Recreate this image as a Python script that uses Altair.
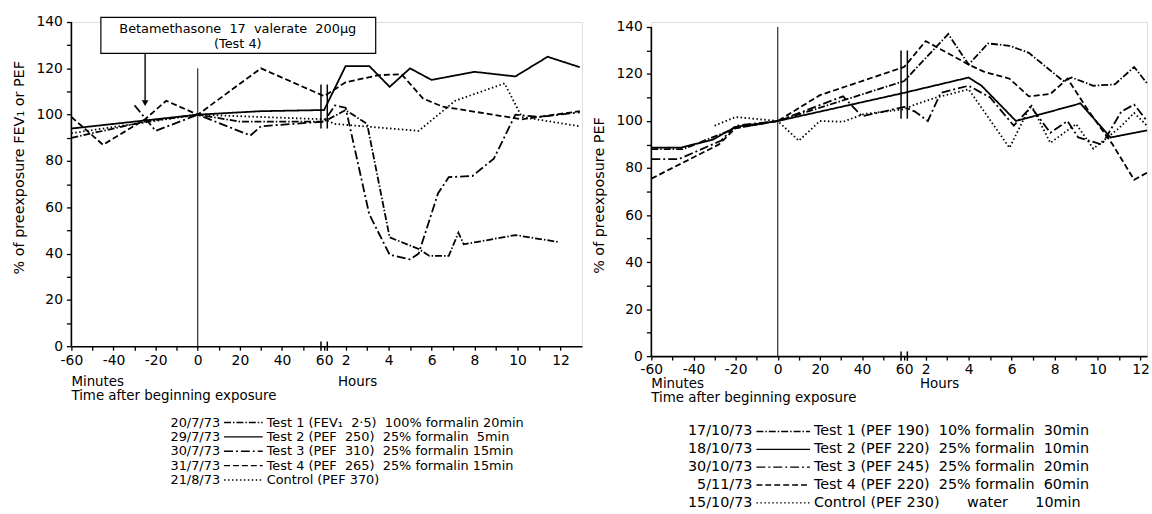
import altair as alt
import pandas as pd

# ---------------- data ----------------
K = 10.2  # axis units per hour after the break (the break sits at 60 min = 1 h)

SERIES = ["Test 1", "Test 2", "Test 3", "Test 4", "Control"]
DASHES = [[7, 2, 1.5, 2], [1, 0], [9, 3, 2, 3], [6, 3], [1.5, 2.5]]

# Left panel: minutes part (-60..60) and hours part (>1 h)
L_T1_MIN = [-60, -25, 0, 20, 60]
L_T1_MIN_V = [90, 97, 100, 97, 97]
L_T1_HRS = [2, 3, 4.05, 5.4, 5.9, 6.8, 7.25, 7.5, 9.9, 11.9]
L_T1_HRS_V = [102, 96, 47, 42, 39, 39, 49, 44, 48, 45]

L_T2_MIN = [-60, -25, 0, 30, 60]
L_T2_MIN_V = [94, 97.5, 100, 101.5, 102]
L_T2_HRS = [2, 3.1, 4.05, 5, 6, 8, 9.9, 11.4, 12.9]
L_T2_HRS_V = [121, 121, 112, 120, 115, 118.5, 116.5, 125, 120.5]

L_T3_MIN = [-30, -20, 0, 25, 30, 60]
L_T3_MIN_V = [104, 93, 100, 91, 95, 97]
L_T3_HRS = [1.5, 2, 3.1, 4.05, 5, 5.4, 6.3, 6.8, 7.9, 8.9, 9.9, 11, 12.9]
L_T3_HRS_V = [104, 103, 57, 39.5, 37.5, 40, 66, 73, 73.5, 81, 100, 99, 101]

L_T4_MIN = [-60, -45, -25, -15, 0, 30, 60]
L_T4_MIN_V = [99, 87, 98, 106, 100, 120, 108]
L_T4_HRS = [2, 3.5, 4.6, 5.6, 6.5, 10.2, 12.9]
L_T4_HRS_V = [114, 117, 117.5, 107, 103.5, 98, 101.5]

L_C_MIN = [-60, 0, 60]
L_C_MIN_V = [92, 100, 98]
L_C_HRS = [1.5, 5.4, 7.1, 9.4, 10.2, 12.9]
L_C_HRS_V = [96, 93, 106, 113.5, 99, 95]

# Right panel
R_T1_MIN = [-60, -45, -20, 0, 60]
R_T1_MIN_V = [88, 88, 97, 100, 117]
R_T1_HRS = [3.05, 4, 4.9, 5.9, 6.8, 8.4, 8.8, 9.8, 10.8, 11.7, 12.3]
R_T1_HRS_V = [137, 124, 133, 132, 129, 117, 118.5, 115, 115.6, 123, 116]

R_T2_MIN = [-60, -46, -31, -20, 0, 60]
R_T2_MIN_V = [88.7, 88.7, 92, 97.5, 100, 112]
R_T2_HRS = [4, 4.6, 6.2, 9.2, 10.6, 12.3]
R_T2_HRS_V = [118.5, 115, 100, 107.5, 93, 96]

R_T3_MIN = [-60, -47, -27, -20, 0, 31, 40, 60]
R_T3_MIN_V = [83.8, 83.8, 91.6, 98, 100, 110.5, 102, 106]
R_T3_HRS = [1.5, 2.1, 2.7, 4, 5, 6.1, 6.9, 7.8, 8.6, 9.1, 10.2, 11.1, 11.7, 12.3]
R_T3_HRS_V = [104, 100, 112, 115, 110, 98, 106, 95, 100, 93, 90, 104, 107, 100]

R_T4_MIN = [-60, -28, -20, 0, 20, 60]
R_T4_MIN_V = [75.5, 90, 97, 100, 111, 123]
R_T4_HRS = [2, 4, 4.7, 5.9, 6.8, 7.8, 8.6, 9.6, 10.7, 11.7, 12.3]
R_T4_HRS_V = [134, 124, 121, 118, 110.5, 111.5, 118, 104, 90, 75, 78]

R_C_MIN = [-30, -20, 0, 10, 20, 31, 41, 60]
R_C_MIN_V = [98, 101.7, 100, 91.6, 100, 99.7, 103, 105]
R_C_HRS = [1.5, 2.5, 4, 5.9, 6.9, 7.8, 9, 9.8, 11, 11.7, 12.3]
R_C_HRS_V = [107, 110, 113.5, 88.6, 107, 90.7, 98.7, 88.2, 97, 103.4, 98]

S = "\u00a0"  # non-breaking space keeps the wide gaps of the original legend
L_DATES = ["20/7/73", "29/7/73", "30/7/73", "31/7/73", "21/8/73"]
L_DESC = [f"Test 1 (FEV\u2081{S}{S}2\u00b75){S}{S}100% formalin 20min",
          f"Test 2 (PEF{S}{S}250){S}{S}25% formalin{S}{S}5min",
          f"Test 3 (PEF{S}{S}310){S}{S}25% formalin 15min",
          f"Test 4 (PEF{S}{S}265){S}{S}25% formalin 15min",
          "Control (PEF 370)"]
R_DATES = ["17/10/73", "18/10/73", "30/10/73", "5/11/73", "15/10/73"]
R_DESC = [f"Test 1 (PEF 190){S}{S}10% formalin{S}{S}30min",
          f"Test 2 (PEF 220){S}{S}25% formalin{S}{S}10min",
          f"Test 3 (PEF 245){S}{S}25% formalin{S}{S}20min",
          f"Test 4 (PEF 220){S}{S}25% formalin{S}{S}60min",
          f"Control (PEF 230){S * 6}water{S * 6}10min"]

FONT = "DejaVu Sans"


def hx(h):
    return 60 + (h - 1) * K


def build(parts):
    rows = []
    for name, mins, mv, hrs, hv in parts:
        for t, v in zip(mins, mv):
            rows.append({"series": name, "xa": t, "v": v})
        for t, v in zip(hrs, hv):
            rows.append({"series": name, "xa": hx(t), "v": v})
    return pd.DataFrame(rows)


left_df = build([
    ("Test 1", L_T1_MIN, L_T1_MIN_V, L_T1_HRS, L_T1_HRS_V),
    ("Test 2", L_T2_MIN, L_T2_MIN_V, L_T2_HRS, L_T2_HRS_V),
    ("Test 3", L_T3_MIN, L_T3_MIN_V, L_T3_HRS, L_T3_HRS_V),
    ("Test 4", L_T4_MIN, L_T4_MIN_V, L_T4_HRS, L_T4_HRS_V),
    ("Control", L_C_MIN, L_C_MIN_V, L_C_HRS, L_C_HRS_V),
])
right_df = build([
    ("Test 1", R_T1_MIN, R_T1_MIN_V, R_T1_HRS, R_T1_HRS_V),
    ("Test 2", R_T2_MIN, R_T2_MIN_V, R_T2_HRS, R_T2_HRS_V),
    ("Test 3", R_T3_MIN, R_T3_MIN_V, R_T3_HRS, R_T3_HRS_V),
    ("Test 4", R_T4_MIN, R_T4_MIN_V, R_T4_HRS, R_T4_HRS_V),
    ("Control", R_C_MIN, R_C_MIN_V, R_C_HRS, R_C_HRS_V),
])


def txt(s, x, y, size=14, **kw):
    return alt.Chart(pd.DataFrame({"t": [s]})).mark_text(
        font=FONT, fontSize=size, color="black", **kw
    ).encode(text="t:N", x=alt.value(x), y=alt.value(y))


def panel(df, width, height, ytop, xmax_h, vtop, brk, ytitle, ytitle_y, lay, extra=None):
    xs = alt.Scale(domain=[-60, hx(xmax_h)], nice=False, zero=False)
    ys = alt.Scale(domain=[0, ytop], nice=False)
    tick_vals = list(range(-60, 61, 10)) + [round(hx(h), 3) for h in range(2, int(xmax_h) + 1)]
    lab = ("datum.value <= 60.5 ? (abs(datum.value) % 20 < 0.5 ? '' + datum.value : '') : "
           f"(round((datum.value - 60) / {K} + 1) % 2 == 0 ? '' + round((datum.value - 60) / {K} + 1) : '')")
    xaxis = alt.Axis(values=tick_vals, tickCount=200, labelExpr=lab, title=None, grid=False, tickSize=4,
                     domainColor="black", domainWidth=1.6, tickColor="black", tickWidth=1.3,
                     labelFont=FONT, labelFontSize=14, labelColor="black",
                     labelOverlap=False, labelFlush=False, labelPadding=3)
    yaxis = alt.Axis(values=list(range(0, 141, 10)), tickCount=200,
                     labelExpr="datum.value % 20 == 0 ? '' + datum.value : ''",
                     title=None, grid=False, tickSize=5, domain=False,
                     tickColor="black", tickWidth=1.3, labelFont=FONT, labelFontSize=14,
                     labelColor="black", labelPadding=4)

    lines = alt.Chart(df).mark_line(color="black", strokeWidth=1.8).encode(
        x=alt.X("xa:Q", scale=xs, axis=xaxis),
        y=alt.Y("v:Q", scale=ys, axis=yaxis),
        strokeDash=alt.StrokeDash("series:N", scale=alt.Scale(domain=SERIES, range=DASHES), legend=None),
        detail="series:N",
    )
    yline = alt.Chart(pd.DataFrame({"xa": [-60], "v": [0], "v2": [140]})).mark_rule(
        color="black", strokeWidth=1.6).encode(x="xa:Q", y="v:Q", y2="v2:Q")
    vline = alt.Chart(pd.DataFrame({"xa": [0], "v": [0], "v2": [vtop]})).mark_rule(
        color="black", strokeWidth=1).encode(x="xa:Q", y="v:Q", y2="v2:Q")
    brk_df = pd.DataFrame({"xa": [58.5, 61.5, 58.5, 61.5],
                           "v": [brk[0], brk[0], -2, -2], "v2": [brk[1], brk[1], 2, 2]})
    brks = alt.Chart(brk_df).mark_rule(color="black", strokeWidth=1.5).encode(
        x="xa:Q", y="v:Q", y2="v2:Q")

    layers = [lines, yline, vline, brks]
    if extra:
        layers += extra
    layers.append(txt(ytitle, -52, ytitle_y, 14.5, angle=270, align="center", baseline="middle"))
    layers.append(txt("Minutes", 0, lay["min_y"], 13.5, align="left", baseline="middle"))
    layers.append(txt("Hours", lay["hours_x"], lay["min_y"], 13.5, align="left", baseline="middle"))
    layers.append(txt("Time after beginning exposure", 0, lay["min_y"] + 14, 13.5,
                      align="left", baseline="middle"))
    for i, (d, s, dash) in enumerate(zip(lay["dates"], lay["desc"], DASHES)):
        y = lay["y0"] + i * lay["dy"]
        layers.append(txt(d, lay["xd"], y, lay["fs"], align="right", baseline="middle"))
        layers.append(alt.Chart(pd.DataFrame({"s": [SERIES[i]]})).mark_rule(
            color="black", strokeWidth=1.4, strokeDash=dash).encode(
            x=alt.value(lay["xd"] + 4), x2=alt.value(lay["xd"] + lay["lw"]), y=alt.value(y)))
        layers.append(txt(s, lay["xd"] + lay["lw"] + 4, y, lay["fs"], align="left", baseline="middle"))
    return alt.layer(*layers).properties(width=width, height=height)


# annotation in the left panel
ann_box = alt.Chart(pd.DataFrame({"xa": [-46], "xa2": [hx(3.4)], "v": [126.5], "v2": [142]})).mark_rect(
    fill="white", stroke="black", strokeWidth=1.2).encode(x="xa:Q", x2="xa2:Q", y="v:Q", y2="v2:Q")
ann_txt = alt.Chart(pd.DataFrame({"xa": [19, 19], "v": [137, 130.6],
                                  "t": [f"Betamethasone{S}{S}17{S}{S}valerate{S}{S}200\u00b5g", "(Test 4)"]})).mark_text(
    font=FONT, fontSize=13, color="black").encode(x="xa:Q", y="v:Q", text="t:N")
ann_arrow = alt.Chart(pd.DataFrame({"xa": [-25], "v": [126.5], "v2": [106]})).mark_rule(
    color="black", strokeWidth=1.4).encode(x="xa:Q", y="v:Q", y2="v2:Q")
ann_head = alt.Chart(pd.DataFrame({"xa": [-25], "v": [105]})).mark_point(
    shape="triangle-down", size=45, filled=True, color="black", opacity=1).encode(x="xa:Q", y="v:Q")

left = panel(left_df, 515, 327, 140, 13, 120, (94, 113), "% of preexposure FEV\u2081 or PEF", 147,
             {"dates": L_DATES, "desc": L_DESC, "xd": 150, "lw": 43, "y0": 404, "dy": 14.5, "fs": 13,
              "hours_x": 269, "min_y": 363},
             extra=[ann_box, ann_txt, ann_arrow, ann_head])
right = panel(right_df, 500, 337, 142.1, 12.3, 140, (101, 130), "% of preexposure PEF", 175,
              {"dates": R_DATES, "desc": R_DESC, "xd": 102, "lw": 58, "y0": 413, "dy": 18, "fs": 14.5,
               "hours_x": 271, "min_y": 365})

chart = alt.hconcat(left, right, spacing=7).properties(
    padding={"left": 11, "top": 12, "right": 0, "bottom": 0}
).configure_view(stroke=None).configure(background="white")

chart.save("out.html", embed_options={"renderer": "svg", "actions": False})
